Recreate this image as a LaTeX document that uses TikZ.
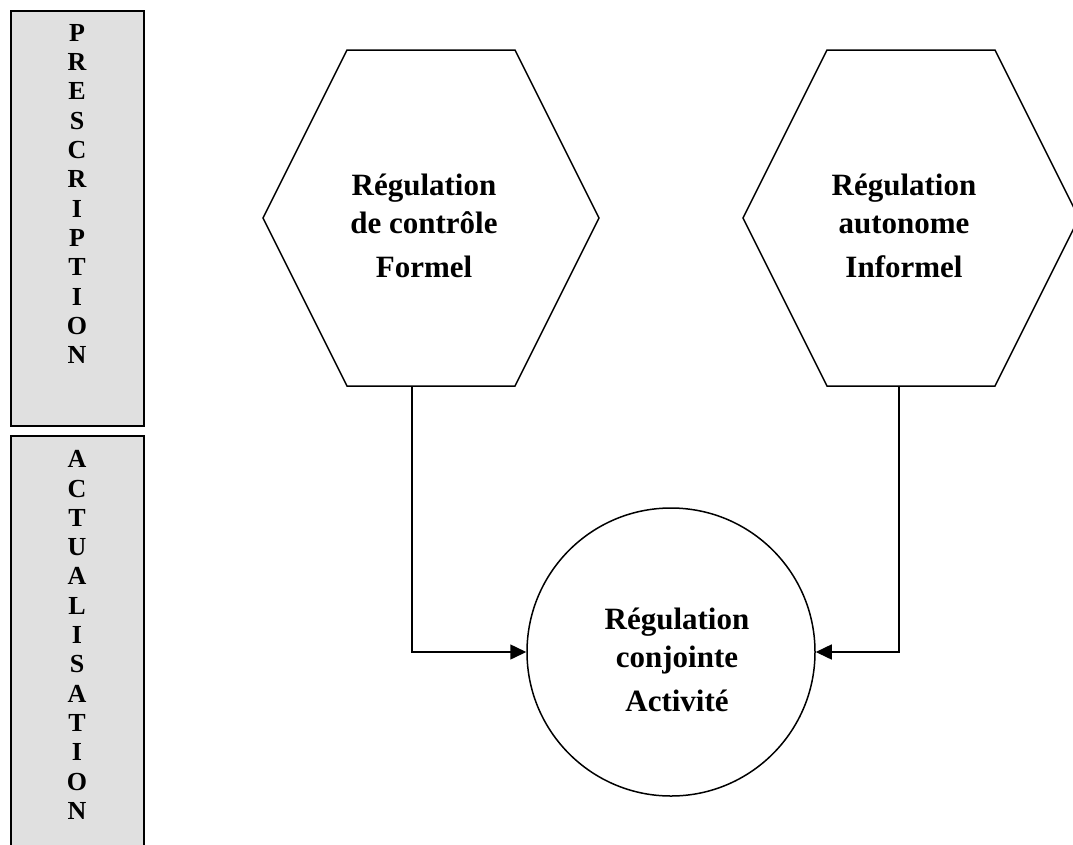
\documentclass[tikz,border=0pt]{standalone}
\usepackage{fontspec}
\setmainfont{Liberation Serif}
\usetikzlibrary{arrows.meta}
\definecolor{boxgray}{RGB}{224,224,224}

\begin{document}
\begin{tikzpicture}[x=1pt,y=-1pt,
  sidebox/.style={draw=black, line width=1.6pt, fill=boxgray, inner sep=0,
                  minimum width=133pt, anchor=north west},
  vletters/.style={font=\fontsize{26}{29.3}\selectfont\bfseries, align=center, inner sep=0},
  hexa/.style={draw=black, line width=1.5pt, line join=miter},
  label/.style={font=\fontsize{31}{38}\selectfont\bfseries, align=center, inner sep=0},
  link/.style={draw=black, line width=1.5pt, -{Triangle[length=16pt,width=15pt]}}]
\useasboundingbox (0,0) rectangle (1073,844);

% side bands
\node[sidebox, minimum height=415pt] (presc) at (10,10) {};
\node[sidebox, minimum height=440pt] (actu) at (10,435) {};
\node[vletters] (prescT) at (77,194) {P\\R\\E\\S\\C\\R\\I\\P\\T\\I\\O\\N};
\node[vletters] (actuT) at (77,635) {A\\C\\T\\U\\A\\L\\I\\S\\A\\T\\I\\O\\N};

% hexagons
\draw[hexa, shift={(431,218)}] (-168,0) -- (-84,-168) -- (84,-168) -- (168,0)
      -- (84,168) -- (-84,168) -- cycle;
\draw[hexa, shift={(911,218)}] (-168,0) -- (-84,-168) -- (84,-168) -- (168,0)
      -- (84,168) -- (-84,168) -- cycle;
\node[label] (ctrl) at (424,226) {Régulation\\de contrôle\\[6pt]Formel};
\node[label] (auto) at (904,226) {Régulation\\autonome\\[6pt]Informel};

% joint regulation
\node[circle, draw=black, line width=1.5pt, minimum size=288pt, inner sep=0] (conj) at (671,652) {};
\node[label] (conjT) at (677,660) {Régulation\\conjointe\\[6pt]Activité};

% connectors
\coordinate (ctrlB) at (412,387);
\coordinate (autoB) at (899,387);
\draw[link] (ctrlB) |- (conj.west);
\draw[link] (autoB) |- (conj.east);
\end{tikzpicture}
\end{document}
